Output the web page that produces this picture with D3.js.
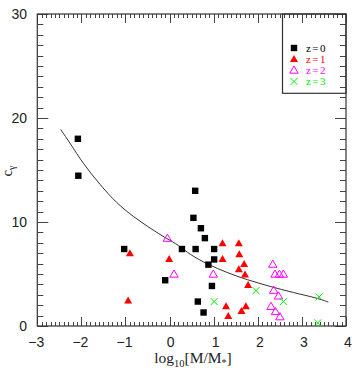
<!DOCTYPE html>
<html><head><meta charset="utf-8">
<script src="https://cdn.jsdelivr.net/npm/d3@7"></script>
<style>body{margin:0;background:#fff}svg{display:block}</style>
</head><body><div id="chart"></div>
<script>
// ---- data ----
const xTicks = [-3,-2,-1,0,1,2,3,4];
const yTicks = [0,10,20,30];
const seriesNames = ["z=0","z=1","z=2","z=3"];
const seriesColors = ["#000000","#ff0000","#ff00ff","#00ee00"];

const z0X = [-2.08,-2.07,-1.03,-0.10,0.28,0.54,0.58,0.59,0.71,0.80,0.88,1.01,1.01,0.96,0.64,0.77];
const z0Y = [18.0,14.45,7.4,4.4,7.4,10.4,13.0,7.4,9.4,8.45,5.9,7.4,6.4,3.85,2.35,1.3];

const z1X = [-0.90,-0.94,-0.01,1.20,1.57,1.20,1.58,1.69,1.57,1.71,1.78,1.28,1.73,1.63,1.33];
const z1Y = [7.0,2.45,6.45,7.95,7.95,6.45,6.9,5.95,5.45,4.95,3.95,1.9,1.9,1.45,0.95];

const z2X = [-0.05,0.10,0.99,2.34,2.39,2.49,2.58,2.36,2.47,2.30,2.40,2.50];
const z2Y = [8.45,5.0,5.0,5.95,5.0,5.0,5.0,3.45,2.9,1.9,1.4,0.9];

const z3X = [1.96,1.01,2.58,3.39,3.36];
const z3Y = [3.4,2.35,2.35,2.8,0.3];

const curveX = [-2.47,-2.26,-1.96,-1.58,-1.20,-0.82,-0.44,-0.07,0.20,0.46,0.88,1.29,1.75,2.28,2.81,3.34,3.60];
const curveY = [18.9,17.6,15.6,13.6,11.8,10.5,9.4,8.4,7.8,6.85,5.9,5.15,4.45,3.8,3.2,2.7,2.3];

// ---- layout ----
const W = 356, H = 368;
const L = 37.3, R = 346, T = 14, B = 326;

const svg = d3.select("#chart").append("svg").attr("width", W).attr("height", H);
const x = d3.scaleLinear().domain([-3,4]).range([L,R]);
const y = d3.scaleLinear().domain([0,30]).range([B,T]);

// ticks
const tickCol = "#444";
const g = svg.append("g").attr("stroke", tickCol).attr("stroke-width", 1);
const xMinor = d3.range(-30, 41).map(d => d/10);
xMinor.forEach(v => {
  const major = Math.abs(v - Math.round(v)) < 1e-6;
  const len = major ? 9 : 4;
  const px = Math.round(x(v)) + 0.5;
  g.append("line").attr("x1", px).attr("x2", px).attr("y1", B).attr("y2", B - len);
  g.append("line").attr("x1", px).attr("x2", px).attr("y1", T).attr("y2", T + len);
});
const yMinor = d3.range(0, 31);
yMinor.forEach(v => {
  const major = v % 10 === 0;
  const len = major ? 11 : 6;
  const py = Math.round(y(v)) + 0.5;
  g.append("line").attr("y1", py).attr("y2", py).attr("x1", L).attr("x2", L + len);
  g.append("line").attr("y1", py).attr("y2", py).attr("x1", R).attr("x2", R - len);
});

// frame
svg.append("rect").attr("x", L).attr("y", T).attr("width", R - L).attr("height", B - T)
  .attr("fill", "none").attr("stroke", "#333").attr("stroke-width", 1.2);

// tick labels
const lblFont = "'Liberation Sans', Arial, Helvetica, sans-serif";
svg.append("g").selectAll("text").data(yTicks).join("text")
  .attr("x", 27).attr("y", d => y(d)).attr("dy", "0.36em")
  .attr("text-anchor", "end").attr("font-family", lblFont).attr("font-size", 14).attr("fill", "#222")
  .text(d => d);
svg.append("g").selectAll("text").data(xTicks).join("text")
  .attr("x", d => x(d) + (d > 0 ? 2 : (d === 0 ? 1 : -1))).attr("y", 347)
  .attr("text-anchor", "middle").attr("font-family", lblFont).attr("font-size", 14).attr("fill", "#222")
  .text(d => d < 0 ? "\u2212" + Math.abs(d) : d);

// axis titles
const serif = "'Liberation Serif', 'Times New Roman', serif";
const xt = svg.append("text").attr("x", 193).attr("y", 363).attr("text-anchor", "middle")
  .attr("font-family", serif).attr("font-size", 15.5).attr("fill", "#222");
xt.append("tspan").text("log");
xt.append("tspan").attr("font-size", 10.5).attr("dy", 3.5).text("10");
xt.append("tspan").attr("dy", -3.5).text("[M/M");
xt.append("tspan").attr("font-size", 10).attr("dy", 3).text("*");
xt.append("tspan").attr("dy", -3).text("]");

const yt = svg.append("text").attr("transform", "translate(12,171) rotate(-90)")
  .attr("text-anchor", "middle").attr("font-family", serif).attr("font-size", 15).attr("fill", "#222");
yt.append("tspan").text("c");
yt.append("tspan").attr("font-size", 10).attr("dy", 3).text("\u03b3");

// curve
const curvePts = curveX.map((v, i) => [v, curveY[i]]);
svg.append("path").datum(curvePts)
  .attr("d", d3.line().x(d => x(d[0])).y(d => y(d[1])).curve(d3.curveBasis))
  .attr("fill", "none").attr("stroke", "#333").attr("stroke-width", 1);

// markers
function square(sel, col) {
  sel.append("rect").attr("x", -3.2).attr("y", -3.2).attr("width", 6.4).attr("height", 6.4).attr("fill", col);
}
const triPath = "M0,-4 L4,3 L-4,3 Z";
function triFilled(sel, col) { sel.append("path").attr("d", triPath).attr("fill", col); }
function triOpen(sel, col) { sel.append("path").attr("d", "M0,-4 L4.2,3.2 L-4.2,3.2 Z").attr("fill", "none").attr("stroke", col).attr("stroke-width", 1); }
function cross(sel, col) { sel.append("path").attr("d", "M-3.5,-3.5 L3.5,3.5 M-3.5,3.5 L3.5,-3.5").attr("stroke", col).attr("stroke-width", 1).attr("fill", "none"); }
const drawers = [square, triFilled, triOpen, cross];
const seriesX = [z0X, z1X, z2X, z3X];
const seriesY = [z0Y, z1Y, z2Y, z3Y];

seriesX.forEach((xs, s) => {
  const pts = xs.map((v, i) => [v, seriesY[s][i]]);
  svg.append("g").selectAll("g").data(pts).join("g")
    .attr("transform", d => `translate(${x(d[0])},${y(d[1])})`)
    .each(function() { drawers[s](d3.select(this), seriesColors[s]); });
});

// legend
const lg = svg.append("g");
lg.append("rect").attr("x", 282.5).attr("y", T).attr("width", R - 282.5).attr("height", 93.3 - T)
  .attr("fill", "none").attr("stroke", "#333").attr("stroke-width", 1.2);
const legendRows = [48, 59, 70, 81.5];
seriesNames.forEach((name, i) => {
  const row = lg.append("g").attr("transform", `translate(294,${legendRows[i]})`);
  drawers[i](row, seriesColors[i]);
  lg.append("text").attr("x", 306).attr("y", legendRows[i]).attr("dy", "0.35em")
    .attr("font-family", serif).attr("font-size", 11).attr("letter-spacing", 1.4)
    .attr("fill", seriesColors[i]).text(name);
});
</script>
</body></html>
